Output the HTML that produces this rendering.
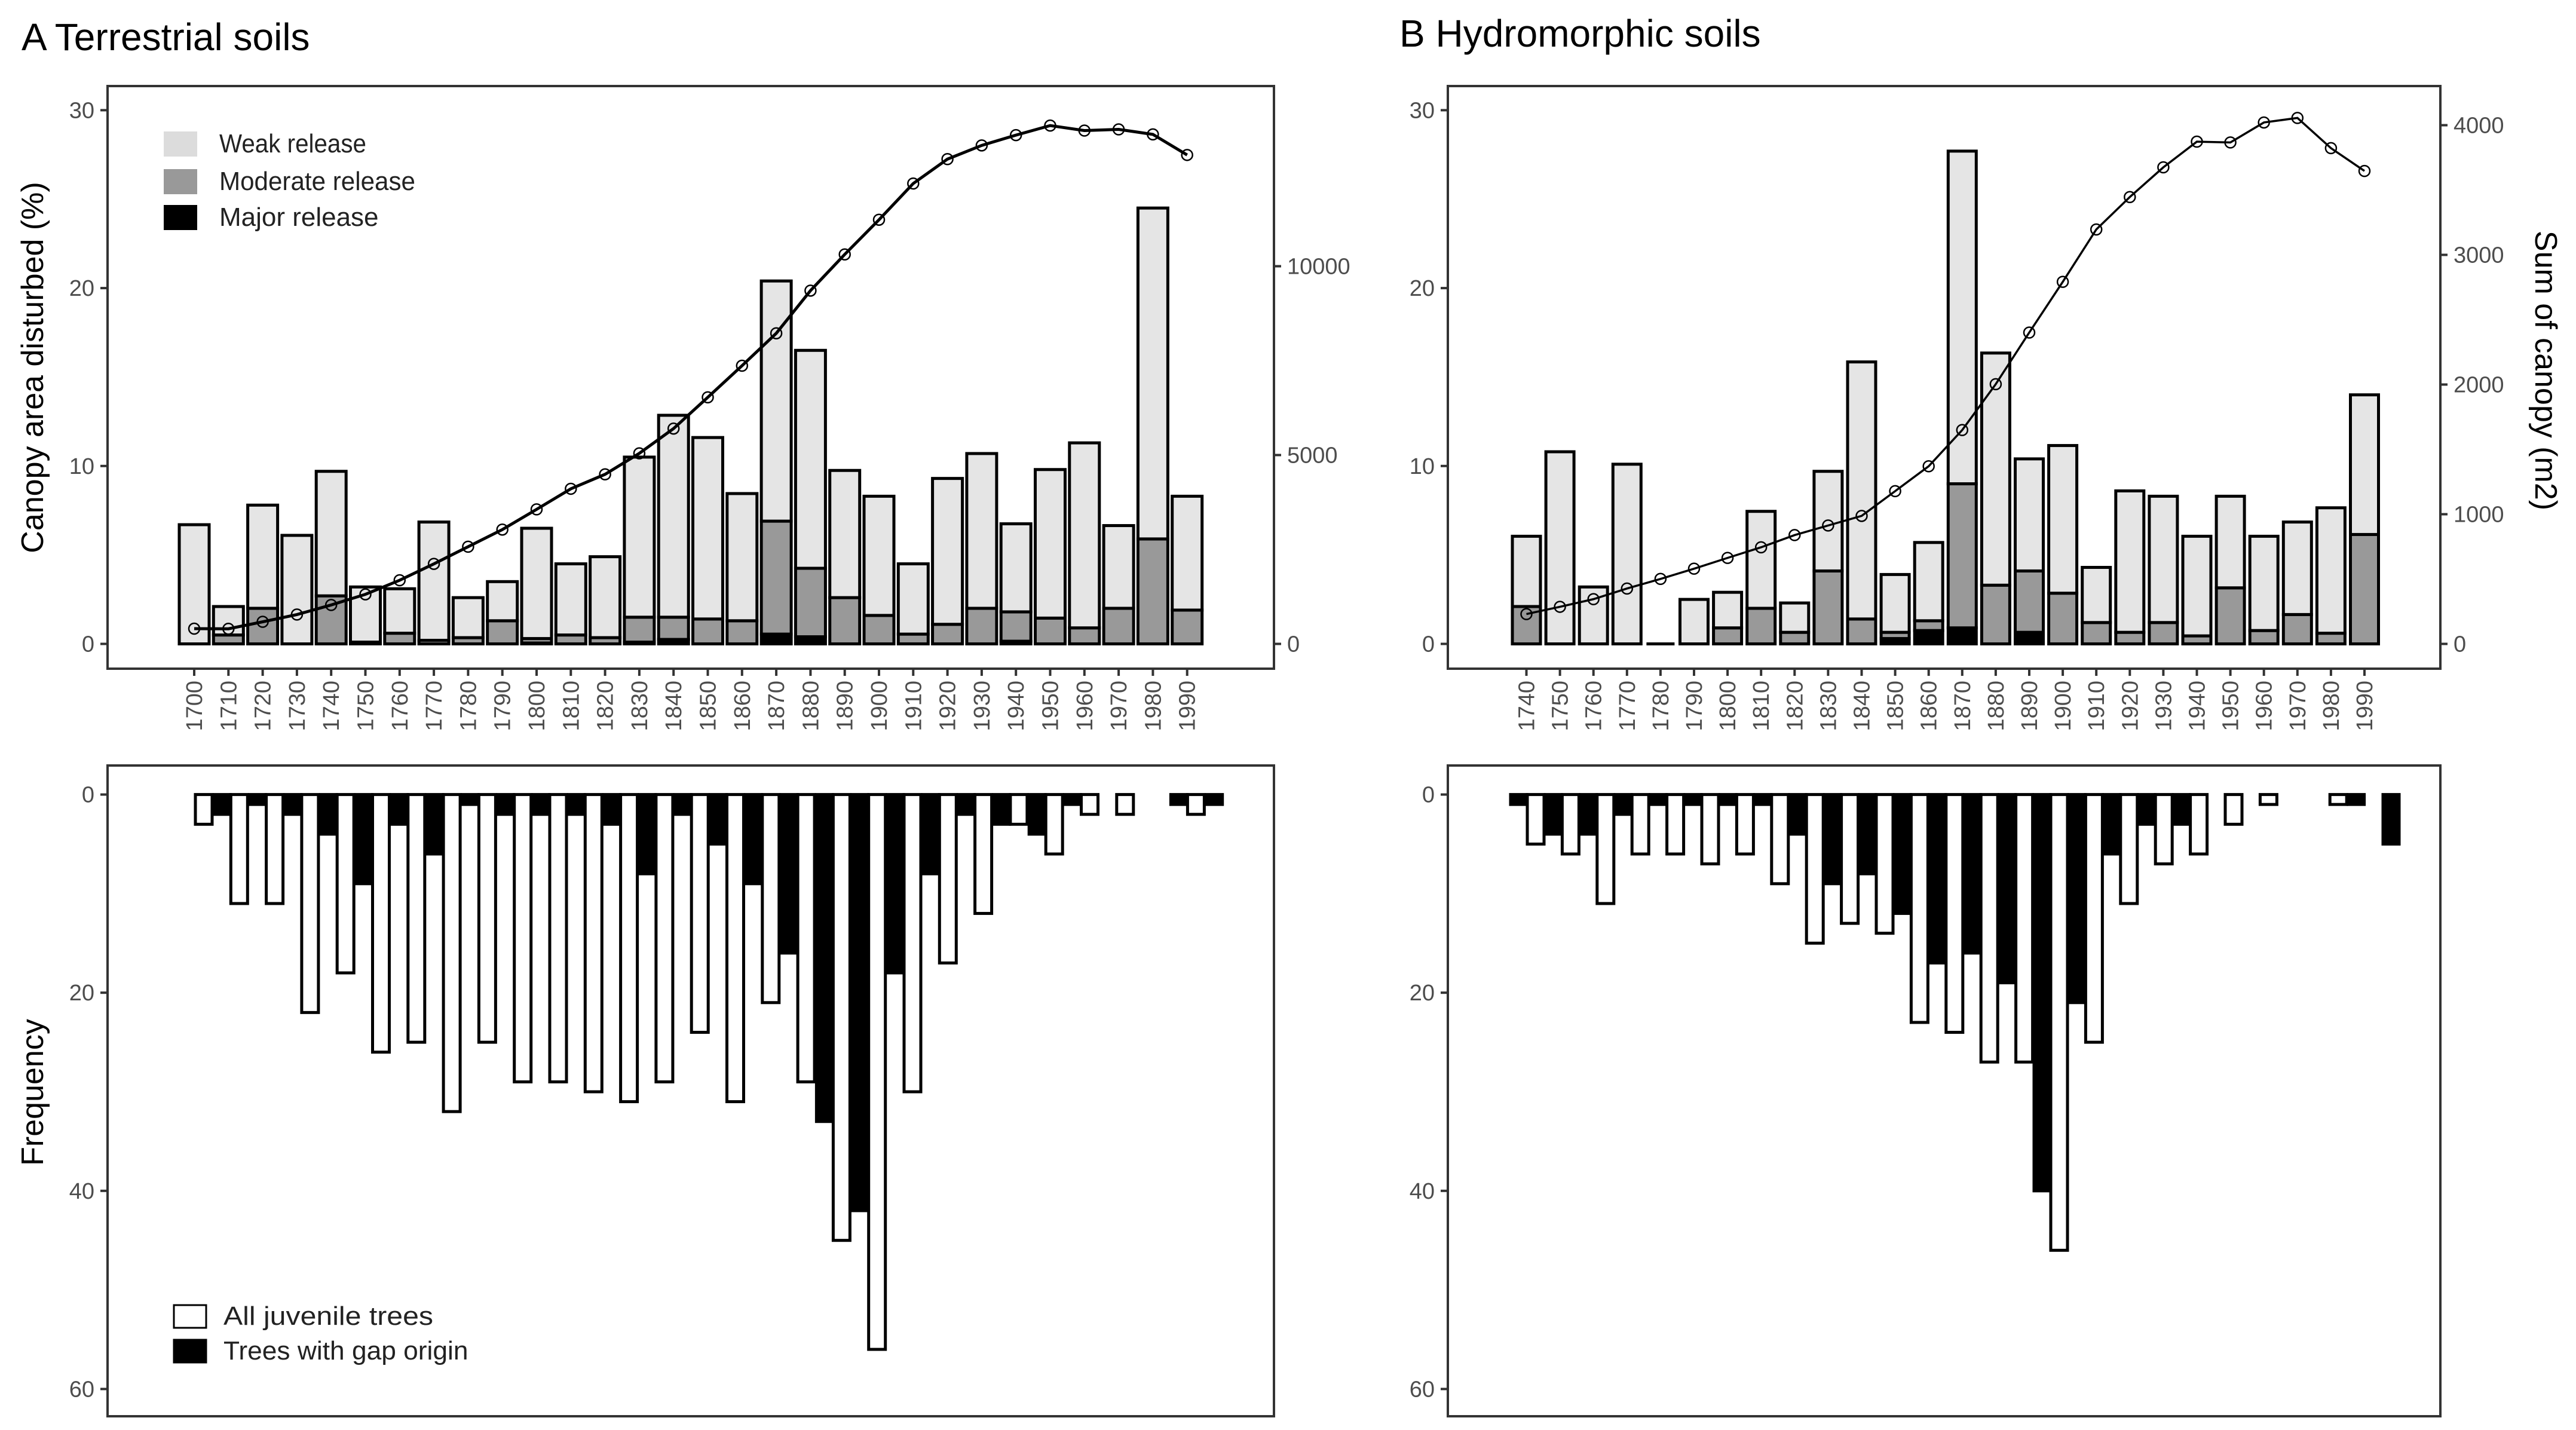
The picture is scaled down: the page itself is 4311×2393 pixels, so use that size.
<!DOCTYPE html>
<html>
<head>
<meta charset="utf-8">
<style>
  html, body { margin: 0; padding: 0; background: #fff; }
  svg { display: block; font-family: "Liberation Sans", sans-serif; }
</style>
</head>
<body>
<svg id="chart" width="4311" height="2393" viewBox="0 0 4311 2393" xmlns="http://www.w3.org/2000/svg">
  <rect x="0" y="0" width="4311" height="2393" fill="#fff"/>
  <text x="36" y="84" font-size="64" fill="#000">A Terrestrial soils</text>
  <text x="2342" y="78" font-size="64" fill="#000">B Hydromorphic soils</text>
  <text transform="translate(72,615) rotate(-90)" text-anchor="middle" font-size="52" fill="#000">Canopy area disturbed (%)</text>
  <text transform="translate(72,1828) rotate(-90)" text-anchor="middle" font-size="52" fill="#000">Frequency</text>
  <text transform="translate(4243,620) rotate(90)" text-anchor="middle" font-size="52" fill="#000">Sum of canopy (m2)</text>
</svg>
<script>
// ---------- DATA ----------
const yearsA = [1700,1710,1720,1730,1740,1750,1760,1770,1780,1790,1800,1810,1820,1830,1840,1850,1860,1870,1880,1890,1900,1910,1920,1930,1940,1950,1960,1970,1980,1990];
const majorA = [0,0,0,0,0,0,0,0,0,0,0.05,0,0,0.1,0.25,0,0,0.55,0.4,0,0,0,0,0,0.15,0,0,0,0,0];
const moderateA = [0,0.5,2.0,0,2.7,0.1,0.6,0.2,0.35,1.3,0.25,0.5,0.35,1.4,1.25,1.4,1.3,6.35,3.85,2.6,1.6,0.55,1.1,2.0,1.65,1.45,0.9,2.0,5.9,1.9];
const weakA = [6.7,1.6,5.8,6.1,7.0,3.1,2.5,6.65,2.25,2.2,6.2,4.0,4.55,9.0,11.35,10.2,7.15,13.5,12.25,7.15,6.7,3.95,8.2,8.7,4.95,8.35,10.4,4.65,18.6,6.4];
const canopyA = [404,400,585,777,1030,1312,1685,2119,2573,3027,3562,4107,4490,5045,5701,6529,7366,8224,9354,10313,11231,12190,12836,13199,13471,13724,13592,13623,13491,12946];
const gapA = [0,2,1,2,4,9,3,6,1,2,2,2,3,8,2,5,9,16,33,42,18,8,2,3,4,1,0,0,1,1];
const juvA = [3,11,11,22,18,26,25,32,25,29,29,30,31,29,24,31,21,29,45,56,30,17,12,3,6,2,2,0,2,0];

const yearsB = [1740,1750,1760,1770,1780,1790,1800,1810,1820,1830,1840,1850,1860,1870,1880,1890,1900,1910,1920,1930,1940,1950,1960,1970,1980,1990];
const majorB = [0,0,0,0,0,0,0,0,0,0,0,0.3,0.75,0.9,0,0.65,0,0,0,0,0,0,0,0,0,0];
const moderateB = [2.1,0,0,0,0,0,0.9,2.0,0.65,4.1,1.4,0.35,0.55,8.1,3.3,3.45,2.85,1.2,0.65,1.2,0.45,3.15,0.75,1.65,0.6,6.15];
const weakB = [3.95,10.8,3.2,10.1,0,2.5,2.0,5.45,1.65,5.6,14.45,3.25,4.4,18.7,13.05,6.3,8.3,3.1,7.95,7.1,5.6,5.15,5.3,5.2,7.05,7.85];
const canopyB = [230,286,345,427,501,580,663,745,839,913,987,1178,1370,1649,2003,2401,2792,3196,3446,3675,3873,3867,4021,4056,3823,3647];
const gapB = [1,4,4,2,1,1,1,1,4,9,8,12,17,16,19,40,21,6,3,3,0,0,0,0,1,5];
const juvB = [5,6,11,6,6,7,6,9,15,13,14,23,24,27,27,46,25,11,7,6,3,1,0,1,0,0];

const leftTicks = [0,10,20,30];
const rightTicksA = [0,5000,10000];
const rightTicksB = [0,1000,2000,3000,4000];
const freqTicks = [0,20,40,60];

// ---------- HELPERS ----------
const NS = 'http://www.w3.org/2000/svg';
const svg = document.getElementById('chart');
function mk(tag, attrs, parent) {
  const e = document.createElementNS(NS, tag);
  for (const k in attrs) e.setAttribute(k, attrs[k]);
  (parent || svg).appendChild(e);
  return e;
}
function lin(d0, d1, r0, r1) { return v => r0 + (v - d0) * (r1 - r0) / (d1 - d0); }

function drawTop(p, years, weak, moderate, major, canopy, rightTicks, rightMax, lineW) {
  const g = mk('g', {});
  
  
  const y = lin(0, 30, p.zero, p.zero - 30 * p.unit);
  const yr = lin(0, rightMax, p.zero, p.zero - p.rUnit * rightMax);
  const x = lin(years[0], years[years.length - 1], p.x0, p.x0 + p.step * (years.length - 1));
  const bw = p.bw;
  years.forEach((yrv, i) => {
    const cx = x(yrv);
    const total = weak[i] + moderate[i] + major[i];
    if (total === 0) {
      const l = mk('line', {x1: cx - bw/2, x2: cx + bw/2, y1: y(0), y2: y(0), stroke: '#000', 'stroke-width': 5}, g);
      
      
      return;
    }
    const segs = [[major[i], '#000', 'major'], [moderate[i], '#999999', 'moderate'], [weak[i], '#e5e5e5', 'weak']];
    let base = 0;
    segs.forEach(s => {
      if (s[0] <= 0) return;
      const r = mk('rect', {x: cx - bw/2, y: y(base + s[0]), width: bw, height: y(base) - y(base + s[0]), fill: s[1], stroke: '#000', 'stroke-width': 5}, g);
      
      
      base += s[0];
    });
  });
  const pts = years.map((yrv, i) => x(yrv) + ',' + yr(canopy[i])).join(' ');
  const pl = mk('polyline', {points: pts, fill: 'none', stroke: '#000', 'stroke-width': lineW}, g);
  
  
  years.forEach((yrv, i) => {
    const c = mk('circle', {cx: x(yrv), cy: yr(canopy[i]), r: 9, fill: 'none', stroke: '#000', 'stroke-width': 2.5}, g);
    
    
  });
  const b = mk('rect', {x: p.left, y: p.top, width: p.right - p.left, height: p.bottom - p.top, fill: 'none', stroke: '#333', 'stroke-width': 4}, g);
  
  
  leftTicks.forEach(t => {
    mk('line', {x1: p.left - 12, x2: p.left, y1: y(t), y2: y(t), stroke: '#333', 'stroke-width': 4}, g);
    const tx = mk('text', {x: p.left - 22, y: y(t) + 13, 'text-anchor': 'end', 'font-size': 38, fill: '#4d4d4d'}, g);
    tx.textContent = t;
    
    
  });
  rightTicks.forEach(t => {
    mk('line', {x1: p.right, x2: p.right + 12, y1: yr(t), y2: yr(t), stroke: '#333', 'stroke-width': 4}, g);
    const tx = mk('text', {x: p.right + 22, y: yr(t) + 13, 'text-anchor': 'start', 'font-size': 38, fill: '#4d4d4d'}, g);
    tx.textContent = t;
    
    
  });
  years.forEach(yrv => {
    const cx = x(yrv);
    mk('line', {x1: cx, x2: cx, y1: p.bottom, y2: p.bottom + 12, stroke: '#333', 'stroke-width': 4}, g);
    const tx = mk('text', {transform: 'translate(' + (cx + 13) + ',' + (p.bottom + 20) + ') rotate(-90)', 'text-anchor': 'end', 'font-size': 38, fill: '#4d4d4d'}, g);
    tx.textContent = yrv;
    
    
  });
}

function drawBottom(p, years, gap, juv) {
  const g = mk('g', {});
  
  
  const y = lin(0, 60, p.zero, p.zero + 60 * p.unit);
  const x = lin(years[0], years[years.length - 1], p.x0, p.x0 + p.step * (years.length - 1));
  years.forEach((yrv, i) => {
    const bx = x(yrv);
    const rb = mk('rect', {x: bx, y: y(0), width: 27, height: y(gap[i]) - y(0), fill: '#000', stroke: '#000', 'stroke-width': 5}, g);
    
    
    const rw = mk('rect', {x: bx + 28, y: y(0), width: 28, height: y(juv[i]) - y(0), fill: '#fff', stroke: '#000', 'stroke-width': 5}, g);
    
    
  });
  const b = mk('rect', {x: p.left, y: p.top, width: p.right - p.left, height: p.bottom - p.top, fill: 'none', stroke: '#333', 'stroke-width': 4}, g);
  
  
  freqTicks.forEach(t => {
    mk('line', {x1: p.left - 12, x2: p.left, y1: y(t), y2: y(t), stroke: '#333', 'stroke-width': 4}, g);
    const tx = mk('text', {x: p.left - 22, y: y(t) + 13, 'text-anchor': 'end', 'font-size': 38, fill: '#4d4d4d'}, g);
    tx.textContent = t;
    
    
  });
}

const topA = {name: 'panel-a', left: 180, right: 2132, top: 144, bottom: 1119, zero: 1077.5, unit: 29.77, rUnit: 316/5000, x0: 325, step: 57.3, bw: 50};
const topB = {name: 'panel-b', left: 2423, right: 4084, top: 144, bottom: 1119, zero: 1077.5, unit: 29.77, rUnit: 217/1000, x0: 2554.5, step: 56.1, bw: 47};
drawTop(topA, yearsA, weakA, moderateA, majorA, canopyA, rightTicksA, 10000, 5);
drawTop(topB, yearsB, weakB, moderateB, majorB, canopyB, rightTicksB, 4000, 3.5);

const botA = {name: 'panel-a', left: 180, right: 2132, top: 1281, bottom: 2370, zero: 1329.6, unit: 16.58, x0: 299, step: 59.3};
const botB = {name: 'panel-b', left: 2423, right: 4084, top: 1281, bottom: 2370, zero: 1329.6, unit: 16.58, x0: 2528, step: 58.4};
drawBottom(botA, yearsA, gapA, juvA);
drawBottom(botB, yearsB, gapB, juvB);

// ---------- LEGENDS ----------
const legTop = mk('g', {});


[['Weak release', '#dcdcdc', 220], ['Moderate release', '#999999', 283], ['Major release', '#000', 343]].forEach(e => {
  const r = mk('rect', {x: 274, y: e[2], width: 56, height: 42, fill: e[1]}, legTop);
  
  
  const t = mk('text', {x: 367, y: e[2] + 35, 'font-size': 44, fill: '#222', 'textLength': e[0].length * 20.5, 'lengthAdjust': 'spacingAndGlyphs'}, legTop);
  t.textContent = e[0];
  
  
});
const legBot = mk('g', {});


[['All juvenile trees', '#fff', 2184], ['Trees with gap origin', '#000', 2242]].forEach(e => {
  const r = mk('rect', {x: 291, y: e[2], width: 54, height: 38, fill: e[1], stroke: '#000', 'stroke-width': 3}, legBot);
  
  
  const t = mk('text', {x: 374, y: e[2] + 33, 'font-size': 44, fill: '#222', 'textLength': e[0].length * 19.5, 'lengthAdjust': 'spacingAndGlyphs'}, legBot);
  t.textContent = e[0];
  
  
});
</script>
</body>
</html>
